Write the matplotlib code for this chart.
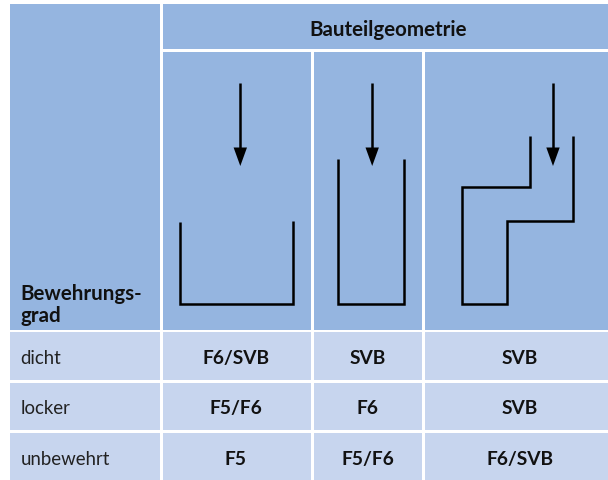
import matplotlib
matplotlib.use("Agg")
import matplotlib.pyplot as plt
from matplotlib.patches import Rectangle, Polygon

W, H = 608, 481
DARK = "#95b5e0"
LIGHT = "#c7d5ee"
TXT = "#111111"

row_labels = ["dicht", "locker", "unbewehrt"]
col1 = ["F6/SVB", "F5/F6", "F5"]
col2 = ["SVB", "F6", "F5/F6"]
col3 = ["SVB", "SVB", "F6/SVB"]
header_top = "Bauteilgeometrie"
header_left = "Bewehrungs-\ngrad"

col_edges = [(10, 160), (162.5, 311), (313.5, 422), (424.5, 608)]
row_edges = [(333, 381), (383.5, 431), (433.5, 481)]
row_text_y = [359, 409, 460]
col_text_x = [236, 367.5, 520]

shapes = [
    [(179.7, 223), (179.7, 304.8), (293.2, 304.8), (293.2, 222)],
    [(338.2, 160), (338.2, 304.8), (403.7, 304.8), (403.7, 160)],
    [(530.2, 137), (530.2, 187.8), (462.2, 187.8), (462.2, 304.8),
     (506.7, 304.8), (506.7, 222.3), (573.2, 222.3), (573.2, 137)],
]
arrow_x = [240.3, 372.2, 553]

fig = plt.figure(figsize=(W / 100, H / 100), dpi=100, facecolor="white")
ax = fig.add_axes([0, 0, 1, 1])
ax.set_xlim(0, W)
ax.set_ylim(H, 0)
ax.axis("off")


def cell(x0, x1, y0, y1, c):
    ax.add_patch(Rectangle((x0, y0), x1 - x0, y1 - y0, fc=c, ec="none"))


cell(10, 160, 5, 330.5, DARK)
cell(162.5, 608, 5, 50, DARK)
for x0, x1 in col_edges[1:]:
    cell(x0, x1, 53, 330.5, DARK)
for y0, y1 in row_edges:
    for x0, x1 in col_edges:
        cell(x0, x1, y0, y1, LIGHT)

for pts in shapes:
    xs, ys = zip(*pts)
    ax.plot(xs, ys, color="black", lw=1.8, solid_joinstyle="miter", solid_capstyle="butt")

for x in arrow_x:
    ax.plot([x, x], [84, 150], color="black", lw=1.8, solid_capstyle="butt")
    ax.add_patch(Polygon([(x - 6.7, 148.5), (x + 6.7, 148.5), (x, 167)], fc="black", ec="none"))

FONT = "Lato"
HEAD = 14.8
BOLD = 13.8
REG = 13.4
ax.text(388.5, 30, header_top, ha="center", va="center", family=FONT, weight="bold", fontsize=HEAD, color=TXT)
ax.text(20.5, 305, header_left, ha="left", va="center", family=FONT, weight="bold", fontsize=HEAD,
        color=TXT, linespacing=1.08)
for i, y in enumerate(row_text_y):
    ax.text(20.5, y, row_labels[i], ha="left", va="center", family=FONT, fontsize=REG, color="#222222")
    for x, col in zip(col_text_x, (col1, col2, col3)):
        ax.text(x, y, col[i], ha="center", va="center", family=FONT, weight="bold", fontsize=BOLD, color=TXT)

fig.savefig("out.png", dpi=100)
